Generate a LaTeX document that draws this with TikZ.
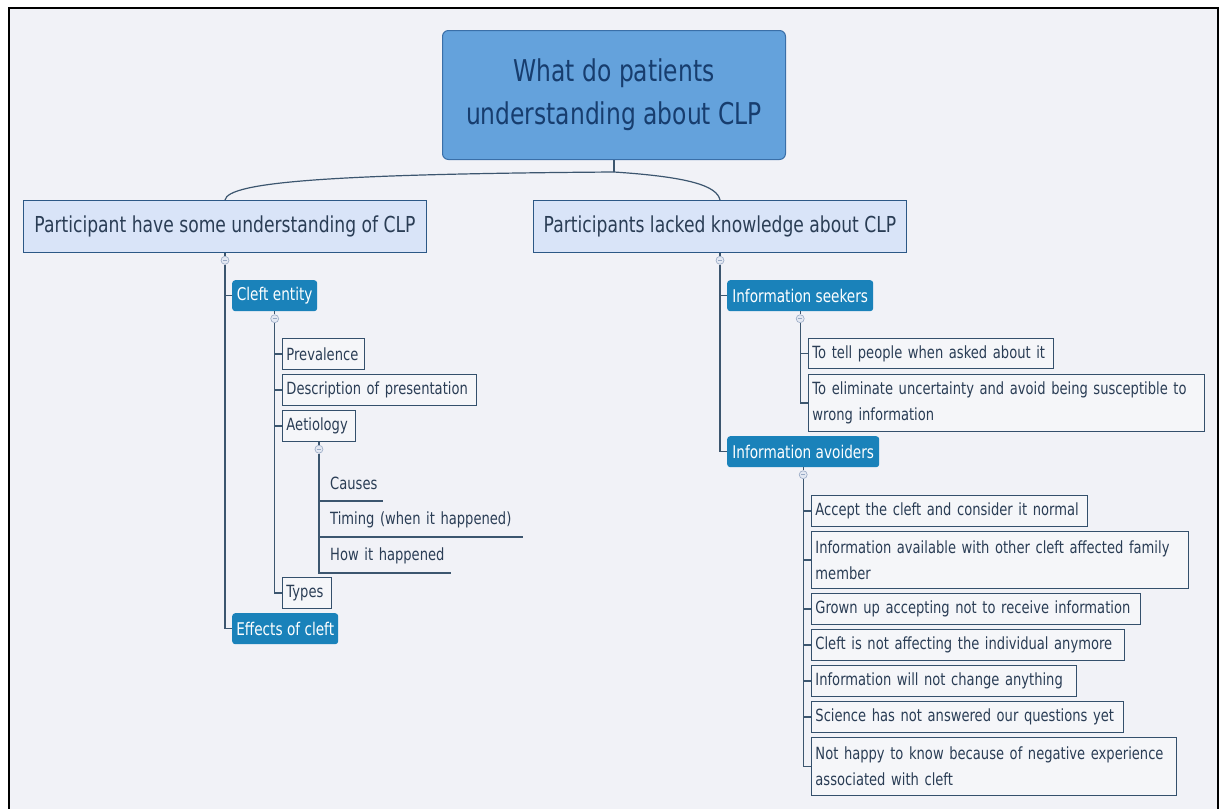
\documentclass[tikz,border=0pt]{standalone}
\usepackage{fontspec}
\setmainfont[FakeStretch=0.78]{DejaVu Sans}
\definecolor{bgc}{HTML}{F1F2F7}
\definecolor{rootfill}{HTML}{64A2DC}
\definecolor{rootdraw}{HTML}{3A6FA8}
\definecolor{roottext}{HTML}{173D6E}
\definecolor{lonefill}{HTML}{D9E4F8}
\definecolor{lonedraw}{HTML}{2C5886}
\definecolor{txt}{HTML}{2A3D55}
\definecolor{ltwofill}{HTML}{1A82BA}
\definecolor{linec}{HTML}{3C566F}
\definecolor{boxdraw}{HTML}{34506C}
\definecolor{circdraw}{HTML}{98A9C4}
\definecolor{circfill}{HTML}{E3E8F2}
\tikzset{
  rootbox/.style={draw=rootdraw, fill=rootfill, rounded corners=6pt, line width=1pt,
    text=roottext, font=\fontsize{30}{43}\selectfont, align=center,
    minimum width=343pt, minimum height=129pt, anchor=north west, inner sep=0pt},
  lone/.style={draw=lonedraw, fill=lonefill, line width=1pt, text=txt,
    font=\fontsize{22}{26}\selectfont, anchor=north west, inner sep=0pt, minimum height=52pt},
  ltwo/.style={fill=ltwofill, rounded corners=3pt, text=white,
    font=\fontsize{17.5}{22}\selectfont, anchor=north west, inner sep=0pt, minimum height=31pt},
  leaf/.style={draw=boxdraw, fill=bgc!70!white, line width=0.9pt, text=txt,
    font=\fontsize{16.8}{26}\selectfont, anchor=north west, align=left,
    inner xsep=4pt, inner ysep=0pt, minimum height=31pt},
  uleaf/.style={text=txt, font=\fontsize{16.8}{26}\selectfont, anchor=south west,
    align=left, inner xsep=12pt, inner ysep=0pt, minimum height=34pt},
  circ/.style={circle, draw=circdraw, fill=circfill, line width=0.6pt, minimum size=8pt,
    inner sep=0pt, anchor=north,
    path picture={\draw[circdraw, line width=0.6pt]
      ([xshift=-2pt]path picture bounding box.center) -- ([xshift=2pt]path picture bounding box.center);}},
  conn/.style={draw=linec, line width=1.2pt}
}
\begin{document}
\begin{tikzpicture}[x=1pt, y=-1pt]
\useasboundingbox (0,0) rectangle (1227,809);
\fill[white] (0,0) rectangle (1227,809);
\fill[bgc] (9,8) rectangle (1218,809);
\draw[black, line width=2pt] (9,809) -- (9,8) -- (1218,8) -- (1218,809);

% root
\node[rootbox] (root) at (442,30) {What do patients\\understanding about CLP};
\coordinate (rj) at (614,172);

% level 1
\node[lone, minimum width=403pt] (pl) at (23,200) {Participant have some understanding of CLP};
\node[lone, minimum width=373pt] (pr) at (533,200) {Participants lacked knowledge about CLP};

\draw[conn] (root.south) -- (rj);
\draw[conn] (rj) .. controls (330,174) and (228,182) .. (pl.north);
\draw[conn] (rj) .. controls (690,177) and (717,186) .. (pr.north);

% left branch
\node[circ] (cpl) at ([yshift=-3pt]pl.south) {};
\draw[conn] (pl.south) -- (cpl.north);
\node[ltwo, minimum width=85pt] (cleft) at (232,280) {Cleft entity};
\node[ltwo, minimum width=106pt] (effects) at (232,613) {Effects of cleft};
\draw[conn] (cpl.south) |- (cleft.west);
\draw[conn] (cpl.south) |- (effects.west);

\node[circ] (ccl) at ([yshift=-3pt]cleft.south) {};
\draw[conn] (cleft.south) -- (ccl.north);
\node[leaf, text width=74pt] (prev) at (282,338) {Prevalence};
\node[leaf, text width=186pt] (desc) at (282,374) {Description of presentation};
\node[leaf, text width=65pt] (aet) at (282,410) {Aetiology};
\node[leaf, text width=41pt] (types) at (282,577) {Types};
\foreach \n in {prev,desc,aet,types} \draw[conn] (ccl.south) |- (\n.west);

\node[circ] (cae) at ([yshift=-3pt]aet.south) {};
\draw[conn] (aet.south) -- (cae.north);
\node[uleaf, text width=41pt] (causes) at (318,501) {\mbox{Causes}};
\node[uleaf, text width=181pt] (timing) at (318,537) {\mbox{Timing (when it happened)}};
\node[uleaf, text width=109pt] (how) at (318,573) {\mbox{How it happened}};
\foreach \n in {causes,timing,how} \draw[conn] (cae.south) |- (\n.south east);

% right branch
\node[circ] (cpr) at ([yshift=-3pt]pr.south) {};
\draw[conn] (pr.south) -- (cpr.north);
\node[ltwo, minimum width=146pt] (seek) at (727,280) {Information seekers};
\node[ltwo, minimum width=152pt] (avoid) at (727,436) {Information avoiders};
\draw[conn] (cpr.south) |- (seek.west);
\draw[conn] (cpr.south) |- (avoid.west);

\node[circ] (cse) at ([yshift=-3pt]seek.south) {};
\draw[conn] (seek.south) -- (cse.north);
\node[leaf, text width=237pt, minimum height=30pt] (tell) at (808,338) {To tell people when asked about it};
\node[leaf, text width=388pt, minimum height=57pt] (elim) at (808,374) {To eliminate uncertainty and avoid being susceptible to\\wrong information};
\foreach \n in {tell,elim} \draw[conn] (cse.south) |- (\n.west);

\node[circ] (cav) at ([yshift=-3pt]avoid.south) {};
\draw[conn] (avoid.south) -- (cav.north);
\node[leaf, text width=268pt] (a1) at (811,495) {Accept the cleft and consider it normal};
\node[leaf, text width=369pt, minimum height=57pt] (a2) at (811,531) {Information available with other cleft affected family\\member};
\node[leaf, text width=321pt] (a3) at (811,593) {Grown up accepting not to receive information};
\node[leaf, text width=305pt] (a4) at (811,629) {Cleft is not affecting the individual anymore};
\node[leaf, text width=257pt] (a5) at (811,665) {Information will not change anything};
\node[leaf, text width=304pt] (a6) at (811,701) {Science has not answered our questions yet};
\node[leaf, text width=357pt, minimum height=58pt] (a7) at (811,737) {Not happy to know because of negative experience\\associated with cleft};
\foreach \n in {a1,a2,a3,a4,a5,a6,a7} \draw[conn] (cav.south) |- (\n.west);
\end{tikzpicture}
\end{document}
